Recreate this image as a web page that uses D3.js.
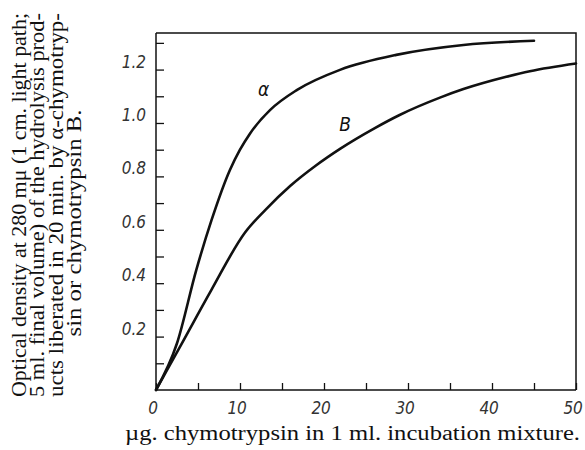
<!DOCTYPE html>
<html lang="en">
<head>
<meta charset="utf-8">
<title>Chymotrypsin hydrolysis</title>
<script src="https://cdn.jsdelivr.net/npm/d3@7"></script>
<style>
  body { margin: 0; background: #fff; }
  .tick text { font-family: "DejaVu Sans Condensed", "DejaVu Sans", sans-serif; font-stretch: condensed; font-style: italic; font-size: 17px; fill: #333; }
  .title { font-family: "Liberation Serif", serif; font-size: 20px; fill: #111; }
  .curve { fill: none; stroke: #111; stroke-width: 2.6; stroke-linejoin: round; stroke-linecap: round; }
  .lab { font-family: "DejaVu Sans Condensed", "DejaVu Sans", sans-serif; font-style: italic; font-size: 19px; fill: #111; }
</style>
</head>
<body>
<div id="chart"></div>
<script>
// µg chymotrypsin vs optical density
var alphaX = [0, 2.5, 4.8, 6.6, 8.8, 10, 11.2, 13.6, 16.8, 21.9, 28.6, 36.6, 45];
var alphaY = [0, 0.175, 0.45, 0.635, 0.824, 0.9, 0.961, 1.049, 1.124, 1.199, 1.255, 1.292, 1.308];
var bX = [0, 3, 6.6, 10.6, 13, 16, 19, 22, 26, 29, 33.8, 36.6, 41.7, 44.5, 50];
var bY = [0, 0.17, 0.375, 0.59, 0.674, 0.765, 0.84, 0.905, 0.98, 1.03, 1.095, 1.127, 1.173, 1.194, 1.223];

var xTicks = [0, 5, 10, 15, 20, 25, 30, 35, 40, 45, 50];
var xTickLabels = ["0", "", "10", "", "20", "", "30", "", "40", "", "50"];
var yTicks = [0.1, 0.2, 0.3, 0.4, 0.5, 0.6, 0.7, 0.8, 0.9, 1.0, 1.1, 1.2, 1.3];
var yTickLabels = ["", "0.2", "", "0.4", "", "0.6", "", "0.8", "", "1.0", "", "1.2", ""];

var titleLines = [
  "Optical density at 280 m\u03bc (1 cm. light path;",
  "5 ml. final volume) of the hydrolysis prod-",
  "ucts liberated in 20 min. by \u03b1-chymotryp-",
  "sin or chymotrypsin B."
];
var xTitle = "\u00b5g. chymotrypsin in 1 ml. incubation mixture.";

var W = 585, H = 450;
var mLeft = 156, mRight = 576, mTop = 33, mBottom = 390;

var x = d3.scaleLinear().domain([0, 50]).range([mLeft, mRight]);
var y = d3.scaleLinear().domain([0, 1.337]).range([mBottom, mTop]);

var svg = d3.select("#chart").append("svg")
    .attr("width", W).attr("height", H);

// frame (top and right edges)
svg.append("path")
    .attr("d", "M" + mLeft + "," + mTop + "H" + mRight + "V" + mBottom)
    .attr("fill", "none").attr("stroke", "#111").attr("stroke-width", 1.5);

var yAxis = svg.append("g")
    .attr("transform", "translate(" + mLeft + ",0)")
    .call(d3.axisLeft(y).tickValues(yTicks).tickSize(-8).tickPadding(10)
      .tickFormat(function(d, i) { return yTickLabels[i]; }));
yAxis.select(".domain").attr("stroke", "#111").attr("stroke-width", 1.5)
    .attr("d", "M0," + mTop + "V" + mBottom);
yAxis.selectAll(".tick line").attr("stroke", "#111").attr("stroke-width", 1.3);
yAxis.selectAll(".tick text").attr("dy", "-0.15em");

var xAxis = svg.append("g")
    .attr("transform", "translate(0," + mBottom + ")")
    .call(d3.axisBottom(x).tickValues(xTicks).tickSize(-7).tickPadding(12)
      .tickFormat(function(d, i) { return xTickLabels[i]; }));
xAxis.select(".domain").attr("stroke", "#111").attr("stroke-width", 1.5)
    .attr("d", "M" + mLeft + ",0H" + mRight);
xAxis.selectAll(".tick line").attr("stroke", "#111").attr("stroke-width", 1.3);
xAxis.selectAll(".tick text").attr("dx", "-0.2em");

var line = d3.line()
    .x(function(d) { return x(d[0]); })
    .y(function(d) { return y(d[1]); })
    .curve(d3.curveMonotoneX);

svg.append("path").attr("class", "curve")
    .attr("d", line(d3.zip(alphaX, alphaY)));
svg.append("path").attr("class", "curve")
    .attr("d", line(d3.zip(bX, bY)));

svg.append("text").attr("class", "lab")
    .attr("x", x(12.8)).attr("y", y(1.1)).attr("text-anchor", "middle").text("\u03b1");
svg.append("text").attr("class", "lab")
    .attr("x", x(22.5)).attr("y", y(0.97)).attr("text-anchor", "middle").text("B");

// y title, rotated; first three lines justified, last one shorter
var titleLen = [384, 384, 384, 227];
var titleMid = [205, 205, 205, 223];
var yt = svg.append("g").attr("transform", "rotate(-90)");
titleLines.forEach(function(t, i) {
  yt.append("text").attr("class", "title")
      .attr("x", -titleMid[i]).attr("y", 26 + i * 18.3)
      .attr("text-anchor", "middle")
      .attr("textLength", titleLen[i]).attr("lengthAdjust", "spacingAndGlyphs")
      .text(t);
});

svg.append("text").attr("class", "title")
    .attr("x", 125).attr("y", 440)
    .attr("textLength", 455).attr("lengthAdjust", "spacingAndGlyphs")
    .text(xTitle);
</script>
</body>
</html>
